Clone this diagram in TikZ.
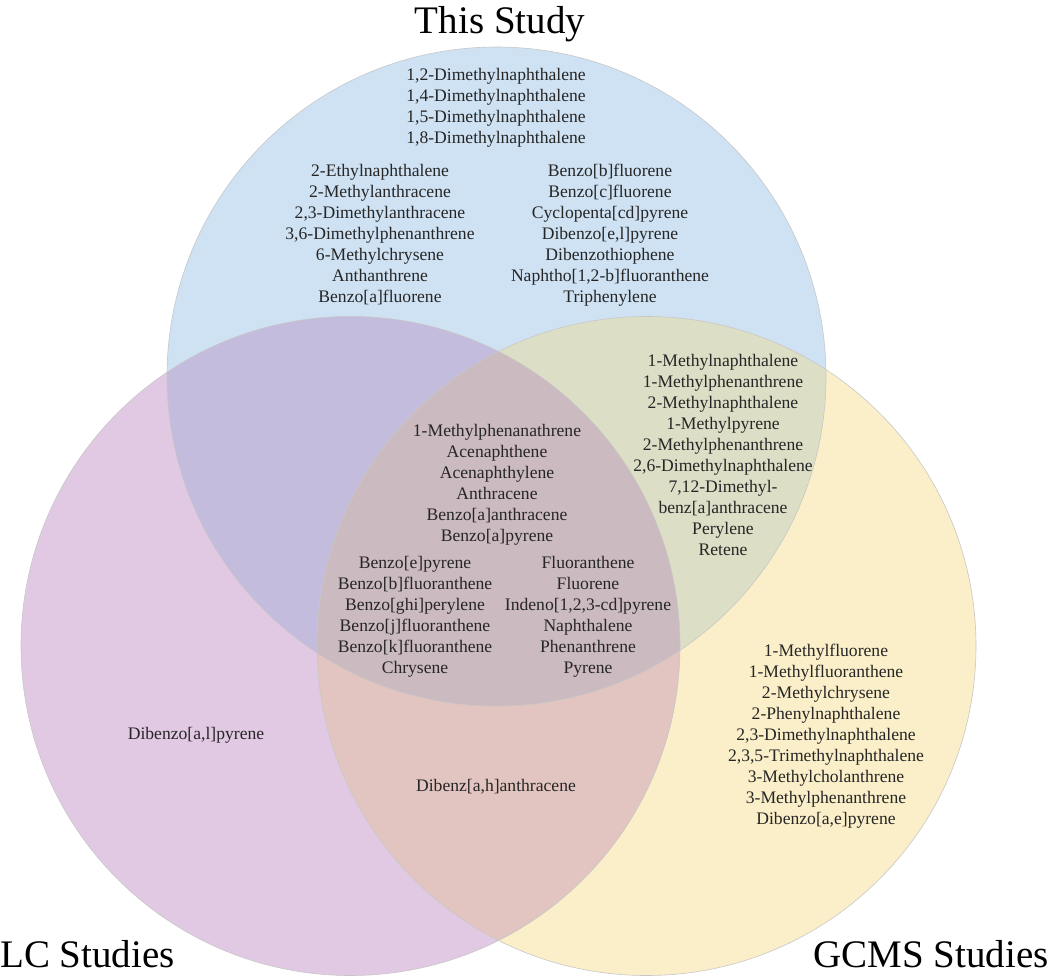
\documentclass[tikz,border=0pt]{standalone}
\usepackage{fontspec}
\setmainfont{Liberation Serif}

\definecolor{tsblue}{RGB}{207,226,243}
\definecolor{lcpurple}{RGB}{226,201,227}
\definecolor{gcyellow}{RGB}{250,239,201}
\definecolor{tslc}{RGB}{196,188,221}
\definecolor{tsgc}{RGB}{220,222,198}
\definecolor{lcgc}{RGB}{226,196,192}
\definecolor{allthree}{RGB}{203,186,192}

\tikzset{cpd/.style={font=\fontsize{17.6}{21}\selectfont,text=black!85,anchor=base,inner sep=0pt},
	study/.style={font=\fontsize{39}{44}\selectfont,anchor=base,inner sep=0pt}
}
\tikzstyle{ring}=[draw=black!22,line width=0.6pt]

% one column of compounds, 21pt apart
\newcommand{\compounds}[4]{%
	\foreach \cpdname [count=\i] in {#4}{
		\node[cpd] (#1\i) at (#2,{#3+(\i-1)*21}) {\cpdname};
	}
}

\begin{document}
\begin{tikzpicture}[x=1pt,y=-1pt]
	\useasboundingbox (0,0) rectangle (1050,980);
	\newcommand{\ringr}{329.5pt}
	\coordinate (cTS) at (496.5,376.5);
	\coordinate (cLC) at (350.5,646);
	\coordinate (cGC) at (646.5,646);

	\fill[tsblue] (cTS) circle (\ringr);
	\fill[lcpurple] (cLC) circle (\ringr);
	\fill[gcyellow] (cGC) circle (\ringr);
	\begin{scope}
		\clip (cTS) circle (\ringr);
		\fill[tslc] (cLC) circle (\ringr);
		\fill[tsgc] (cGC) circle (\ringr);
	\end{scope}
	\begin{scope}
		\clip (cLC) circle (\ringr);
		\fill[lcgc] (cGC) circle (\ringr);
		\clip (cGC) circle (\ringr);
		\fill[allthree] (cTS) circle (\ringr);
	\end{scope}
	\foreach \c in {cTS,cLC,cGC}
		\draw[ring] (\c) circle (\ringr);

	\node[study] (thisstudy) at (500,33) {This Study};
	\node[study,anchor=base west] (lcstudies) at (0,967) {LC Studies};
	\node[study,anchor=base east] (gcstudies) at (1049,967) {GCMS Studies};

	\compounds{tsa}{496}{80}{{1,2-Dimethylnaphthalene},{1,4-Dimethylnaphthalene},
		{1,5-Dimethylnaphthalene},{1,8-Dimethylnaphthalene}}
	\compounds{tsb}{380}{176}{{2-Ethylnaphthalene},{2-Methylanthracene},
		{2,3-Dimethylanthracene},{3,6-Dimethylphenanthrene},{6-Methylchrysene},
		{Anthanthrene},{Benzo[a]fluorene}}
	\compounds{tsc}{610}{176}{{Benzo[b]fluorene},{Benzo[c]fluorene},
		{Cyclopenta[cd]pyrene},{Dibenzo[e,l]pyrene},{Dibenzothiophene},
		{Naphtho[1,2-b]fluoranthene},{Triphenylene}}
	\compounds{tsgc}{723}{366}{{1-Methylnaphthalene},{1-Methylphenanthrene},
		{2-Methylnaphthalene},{1-Methylpyrene},{2-Methylphenanthrene},
		{2,6-Dimethylnaphthalene},{7,12-Dimethyl-},{benz[a]anthracene},
		{Perylene},{Retene}}
	\compounds{all}{497}{436}{{1-Methylphenanathrene},{Acenaphthene},
		{Acenaphthylene},{Anthracene},{Benzo[a]anthracene},{Benzo[a]pyrene}}
	\compounds{alla}{415}{568}{{Benzo[e]pyrene},{Benzo[b]fluoranthene},
		{Benzo[ghi]perylene},{Benzo[j]fluoranthene},{Benzo[k]fluoranthene},
		{Chrysene}}
	\compounds{allb}{588}{568}{{Fluoranthene},{Fluorene},
		{Indeno[1,2,3-cd]pyrene},{Naphthalene},{Phenanthrene},{Pyrene}}
	\compounds{gc}{826}{656}{{1-Methylfluorene},{1-Methylfluoranthene},
		{2-Methylchrysene},{2-Phenylnaphthalene},{2,3-Dimethylnaphthalene},
		{2,3,5-Trimethylnaphthalene},{3-Methylcholanthrene},
		{3-Methylphenanthrene},{Dibenzo[a,e]pyrene}}
	\node[cpd] (lc1) at (196,739) {Dibenzo[a,l]pyrene};
	\node[cpd] (lcgc1) at (496,791) {Dibenz[a,h]anthracene};
\end{tikzpicture}
\end{document}
